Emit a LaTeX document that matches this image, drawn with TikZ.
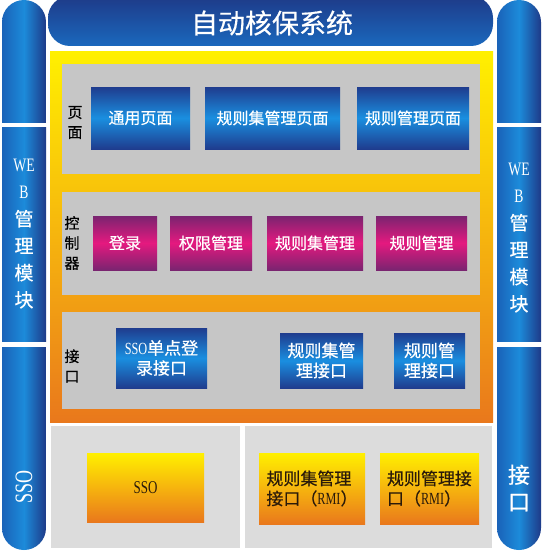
\documentclass[tikz,border=0pt]{standalone}
\usepackage{fontspec}
\setmainfont[FakeStretch=0.72]{Liberation Serif}
\newfontfamily\cjk[FakeBold=0.5]{Noto Sans CJK SC}
\definecolor{navyblue}{HTML}{1F3C8E}
\definecolor{brightblue}{HTML}{1A8FE0}
\definecolor{colleft}{HTML}{1A62B8}
\definecolor{colmid}{HTML}{1C8BDA}
\definecolor{colright}{HTML}{1E3A88}
\definecolor{magdark}{HTML}{7A2470}
\definecolor{magbright}{HTML}{E5197F}
\definecolor{sunyellow}{HTML}{FFF000}
\definecolor{sunmid}{HTML}{F6B40E}
\definecolor{sunorange}{HTML}{E9781C}
\definecolor{panelgray}{HTML}{C6C6C6}
\definecolor{basegray}{HTML}{DCDCDC}
\definecolor{darktext}{HTML}{2A1A0A}

\begin{document}
\begin{tikzpicture}[x=1pt, y=-1pt,
	colshade/.style={shading=axis, left color=colleft, right color=colright, middle color=colmid},
	sunshade/.style={shading=axis, top color=sunyellow, bottom color=sunorange, middle color=sunmid},
	bluebox/.style={shading=axis, top color=navyblue, bottom color=navyblue, middle color=brightblue, text=white, align=center, inner sep=0pt, font=\cjk\fontsize{16}{20}\selectfont},
	magbox/.style={shading=axis, top color=magdark, bottom color=magdark, middle color=magbright, text=white, align=center, inner sep=0pt, font=\cjk\fontsize{16}{20}\selectfont},
	sunbox/.style={sunshade, text=darktext, inner sep=0pt, font=\cjk\fontsize{17}{20}\selectfont},
	paneltext/.style={align=center, inner sep=0pt, font=\cjk\fontsize{15}{20}\selectfont},
	coltext/.style={align=center, inner sep=0pt, text=white, font=\fontsize{19}{27}\selectfont}]
	\useasboundingbox (0,0) rectangle (542,551);
	\fill[white] (0,0) rectangle (542,551);
	\begin{scope}
		\clip (2,0) rectangle (46,122);
		\shade[colshade, rounded corners=22pt] (2,0) rectangle (46,160);
	\end{scope}
	\shade[colshade] (2,127) rectangle (46,341);
	\begin{scope}
		\clip (2,347) rectangle (46,551);
		\shade[colshade, rounded corners=22pt] (2,300) rectangle (46,550);
	\end{scope}
	\begin{scope}
		\clip (497,0) rectangle (541,122);
		\shade[colshade, rounded corners=22pt] (497,0) rectangle (541,160);
	\end{scope}
	\shade[colshade] (497,127) rectangle (541,341);
	\begin{scope}
		\clip (497,347) rectangle (541,551);
		\shade[colshade, rounded corners=22pt] (497,300) rectangle (541,550);
	\end{scope}
	\shade[shading=axis, top color=colright, bottom color=colleft!85!colmid, rounded corners=22pt] (48,-4) rectangle (493,46);
	\node[text=white, font=\cjk\fontsize{27}{30}\selectfont] (title) at (272,23) {自动核保系统};
	\shade[sunshade] (50,52) rectangle (493,422);
	\fill[panelgray] (62,64) rectangle (480,174);
	\fill[panelgray] (62,192) rectangle (480,295);
	\fill[panelgray] (62,312) rectangle (480,409);
	\fill[basegray] (51,426) rectangle (240,548);
	\fill[basegray] (245,426) rectangle (492,548);
	\node[paneltext] (yemian) at (75,122.5) {页\\面};
	\node[paneltext] (kongzhiqi) at (72,243) {控\\制\\器};
	\node[paneltext] (jiekou) at (72,366) {接\\口};
	\node[bluebox, minimum width=99pt, minimum height=62pt] (tongyong) at (140.5,118) {通用页面};
	\node[bluebox, minimum width=135pt, minimum height=62pt] (jiyemian) at (272.5,118) {规则集管理页面};
	\node[bluebox, minimum width=112pt, minimum height=62pt] (guizeyemian) at (413,118) {规则管理页面};
	\node[magbox, minimum width=64pt, minimum height=54pt] (denglu) at (125,243) {登录};
	\node[magbox, minimum width=82pt, minimum height=54pt] (quanxian) at (211,243) {权限管理};
	\node[magbox, minimum width=96pt, minimum height=54pt] (jiguanli) at (315,243) {规则集管理};
	\node[magbox, minimum width=91pt, minimum height=54pt] (guizeguanli) at (421.5,243) {规则管理};
	\node[bluebox, minimum width=91pt, minimum height=60pt, font=\cjk\fontsize{17}{20}\selectfont] (ssojiekou) at (161.5,358) {{\rmfamily SSO}单点登\\录接口};
	\node[bluebox, minimum width=83pt, minimum height=55pt, font=\cjk\fontsize{17}{20}\selectfont] (jijiekou) at (321.5,360.5) {规则集管\\理接口};
	\node[bluebox, minimum width=71pt, minimum height=55pt, font=\cjk\fontsize{17}{20}\selectfont] (guizejiekou) at (429.5,360.5) {规则管\\理接口};
	\node[sunbox, minimum width=117pt, minimum height=69pt, font=\fontsize{18}{20}\selectfont] (sso) at (145.5,487.5) {SSO};
	\node[sunbox, minimum width=106pt, minimum height=71pt, align=left] (jirmi) at (312,488.5) {规则集管理\\接口（{\rmfamily RMI}）};
	\node[sunbox, minimum width=99pt, minimum height=71pt, align=left] (guizermi) at (429.5,488.5) {规则管理接\\口（{\rmfamily RMI}）};
	\node[coltext] (webleft) at (24,234) {WE\\B\\{\cjk 管}\\{\cjk 理}\\{\cjk 模}\\{\cjk 块}};
	\node[coltext] (webright) at (519,238) {WE\\B\\{\cjk 管}\\{\cjk 理}\\{\cjk 模}\\{\cjk 块}};
	\node[coltext, rotate=90, font=\fontsize{25}{27}\selectfont] (ssoleft) at (24,487) {SSO};
	\node[coltext, font=\cjk\fontsize{22}{27}\selectfont] (jiekouright) at (519,488) {接\\口};
\end{tikzpicture}
\end{document}
